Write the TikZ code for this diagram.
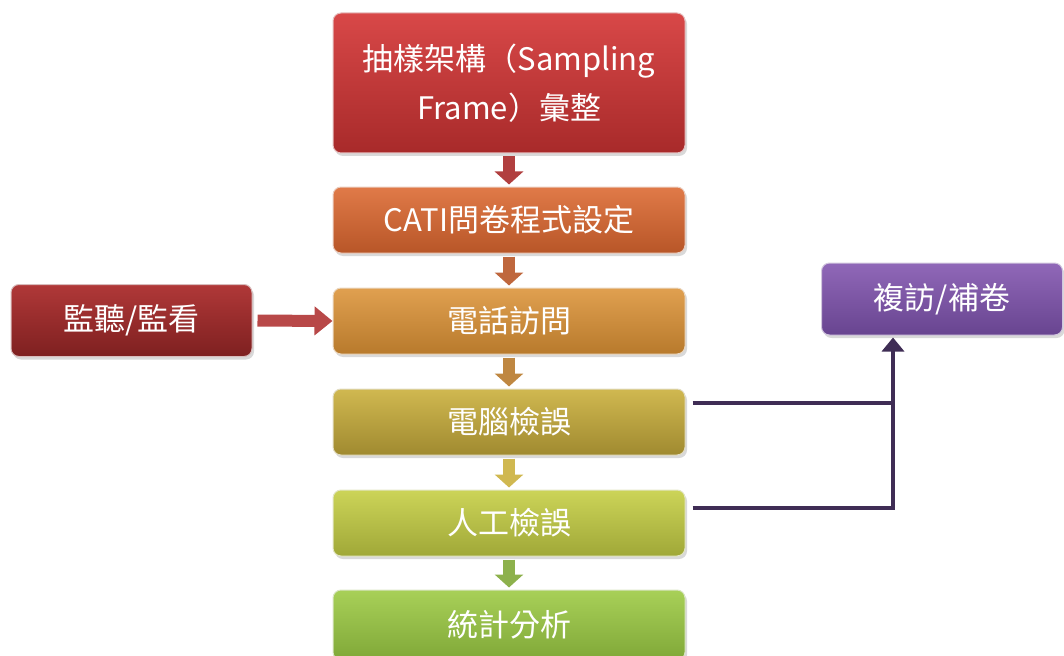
\documentclass[tikz,border=0pt]{standalone}
\usepackage{fontspec}
\setmainfont{Noto Sans CJK TC}
\usetikzlibrary{arrows.meta,shadows,calc}
\definecolor{c1t}{HTML}{D84848}\definecolor{c1b}{HTML}{A82A2A}
\definecolor{c2t}{HTML}{E07A48}\definecolor{c2b}{HTML}{B85628}
\definecolor{c3t}{HTML}{E0A050}\definecolor{c3b}{HTML}{B87A2C}
\definecolor{c4t}{HTML}{D0B850}\definecolor{c4b}{HTML}{A08A30}
\definecolor{c5t}{HTML}{CCD458}\definecolor{c5b}{HTML}{A0A838}
\definecolor{c6t}{HTML}{A8D058}\definecolor{c6b}{HTML}{80A838}
\definecolor{cmt}{HTML}{B03838}\definecolor{cmb}{HTML}{7E2020}
\definecolor{cpt}{HTML}{9068B8}\definecolor{cpb}{HTML}{684490}
\definecolor{conn}{HTML}{3F2D55}
\definecolor{la}{HTML}{B84848}
\tikzset{
  box/.style={rounded corners=8pt, text=white, font=\fontsize{31}{49}\selectfont,
    align=center, draw=white!70!#1, line width=1pt, drop shadow={opacity=0.3,shadow xshift=2pt,shadow yshift=-3pt}},
  mainbox/.style={box=#1, minimum width=352pt, minimum height=66pt},
  sidebox/.style={box=#1, minimum width=241pt, minimum height=72pt},
  downarrow/.style={draw=#1, line width=12pt, -{Triangle[width=28pt,length=13pt]}, shorten <=3pt, shorten >=2pt},
  connline/.style={draw=conn, line width=4.5pt},
}
\begin{document}
\begin{tikzpicture}[x=1pt,y=-1pt]
\useasboundingbox (0,0) rectangle (1064,655);
\node[mainbox=c1b, minimum height=140pt, top color=c1t, bottom color=c1b] (b1) at (509,83) {抽樣架構（Sampling\\Frame）彙整};
\node[mainbox=c2b, top color=c2t, bottom color=c2b] (b2) at (509,220) {CATI問卷程式設定};
\node[mainbox=c3b, top color=c3t, bottom color=c3b] (b3) at (509,321) {電話訪問};
\node[mainbox=c4b, top color=c4t, bottom color=c4b] (b4) at (509,422) {電腦檢誤};
\node[mainbox=c5b, top color=c5t, bottom color=c5b] (b5) at (509,523) {人工檢誤};
\node[mainbox=c6b, minimum height=70pt, top color=c6t, bottom color=c6b] (b6) at (509,625) {統計分析};
\node[sidebox=cmb, top color=cmt, bottom color=cmb] (mon) at (131.5,320.5) {監聽/監看};
\node[sidebox=cpb, top color=cpt, bottom color=cpb] (rv) at (942,299) {複訪/補卷};
\draw[downarrow=c1b!90!white] (b1.south) -- (b2.north);
\draw[downarrow=c2b!90!white] (b2.south) -- (b3.north);
\draw[downarrow=c3b!90!white] (b3.south) -- (b4.north);
\draw[downarrow=c4t] (b4.south) -- (b5.north);
\draw[downarrow=c6b!90!white] (b5.south) -- (b6.north);
\draw[draw=la, line width=12pt, -{Triangle[width=28pt,length=18pt]}, shorten <=5pt] (mon.east) -- (b3.west);
\coordinate (jx) at (893,0);
\draw[connline] ([xshift=7pt,yshift=19pt]b4.east) -- ([yshift=19pt]b4.east -| jx);
\draw[connline, -{Triangle[width=22pt,length=14pt]}] ([xshift=7pt,yshift=15pt]b5.east) -| ([yshift=-2pt]rv.south -| jx);
\end{tikzpicture}
\end{document}
